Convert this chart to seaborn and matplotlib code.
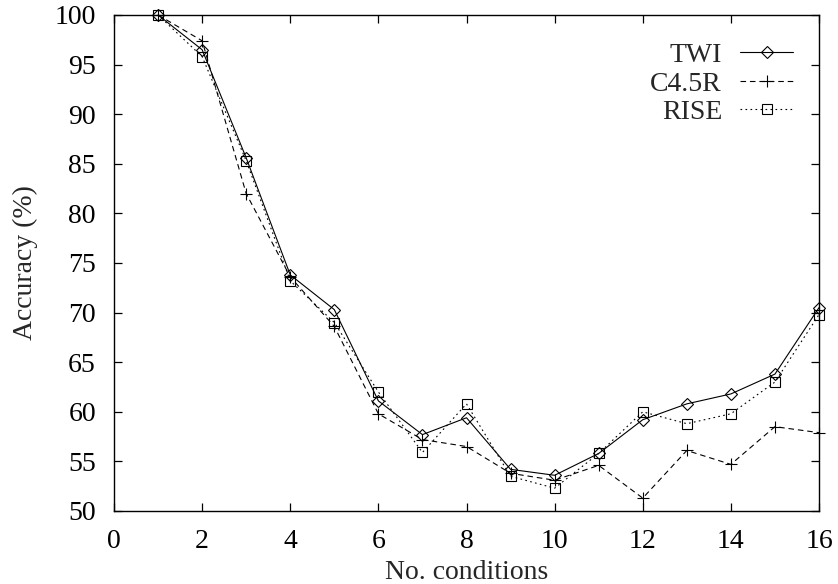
import matplotlib
matplotlib.use("Agg")
import matplotlib.pyplot as plt
import seaborn as sns
import pandas as pd

conditions = list(range(1, 17))
twi = [100, 96.5, 85.6, 73.8, 70.3, 61.1, 57.7, 59.4, 54.2, 53.6, 55.8, 59.2, 60.8, 61.8, 63.8, 70.5]
c45r = [100, 97.4, 82.0, 73.6, 68.6, 59.8, 57.2, 56.5, 53.8, 53.1, 54.6, 51.3, 56.1, 54.7, 58.5, 57.9]
rise = [100, 95.8, 85.3, 73.2, 69.0, 62.0, 55.9, 60.8, 53.5, 52.3, 55.8, 60.0, 58.8, 59.8, 63.0, 69.8]
x_ticks = list(range(0, 17, 2))
y_ticks = list(range(50, 101, 5))

sns.set_style("ticks")
plt.rcParams['font.family'] = ['Liberation Serif', 'DejaVu Serif']

fig = plt.figure(figsize=(8.38, 5.84), dpi=100)
ax = fig.add_axes([114/838, 1 - 511/584, (819-114)/838, (511-15)/584])

series = [
    ("TWI", twi, dict(linestyle='-', marker='D', markersize=6)),
    ("C4.5R", c45r, dict(linestyle=(0, (5, 3.5)), marker='+', markersize=8)),
    ("RISE", rise, dict(linestyle=(0, (1.5, 3)), marker='s', markersize=7)),
]
for name, vals, st in series:
    df = pd.DataFrame({"cond": conditions, "acc": vals})
    sns.lineplot(data=df, x="cond", y="acc", ax=ax, color='black', linewidth=0.8,
                 markerfacecolor='none', markeredgecolor='black', markeredgewidth=0.8,
                 label=name, clip_on=False, **st)

ax.set_xlim(0, 16)
ax.set_ylim(50, 100)
ax.set_xticks(x_ticks)
ax.set_yticks(y_ticks)
for sp in ax.spines.values():
    sp.set_linewidth(1.0)
    sp.set_color('black')
ax.tick_params(direction='in', top=True, right=True, length=6, width=0.9,
               labelsize=20, pad=13, colors='black')
ax.set_xlabel("No. conditions", fontsize=20, labelpad=4)
ax.set_ylabel("Accuracy (%)", fontsize=20, labelpad=12)

leg = ax.legend(loc='upper right', bbox_to_anchor=(0.963, 0.944), frameon=False,
                markerfirst=False, fontsize=20, handlelength=1.9, handletextpad=0.65,
                labelspacing=0.11, borderpad=0, borderaxespad=0)

fig.savefig("out.png", dpi=100)
